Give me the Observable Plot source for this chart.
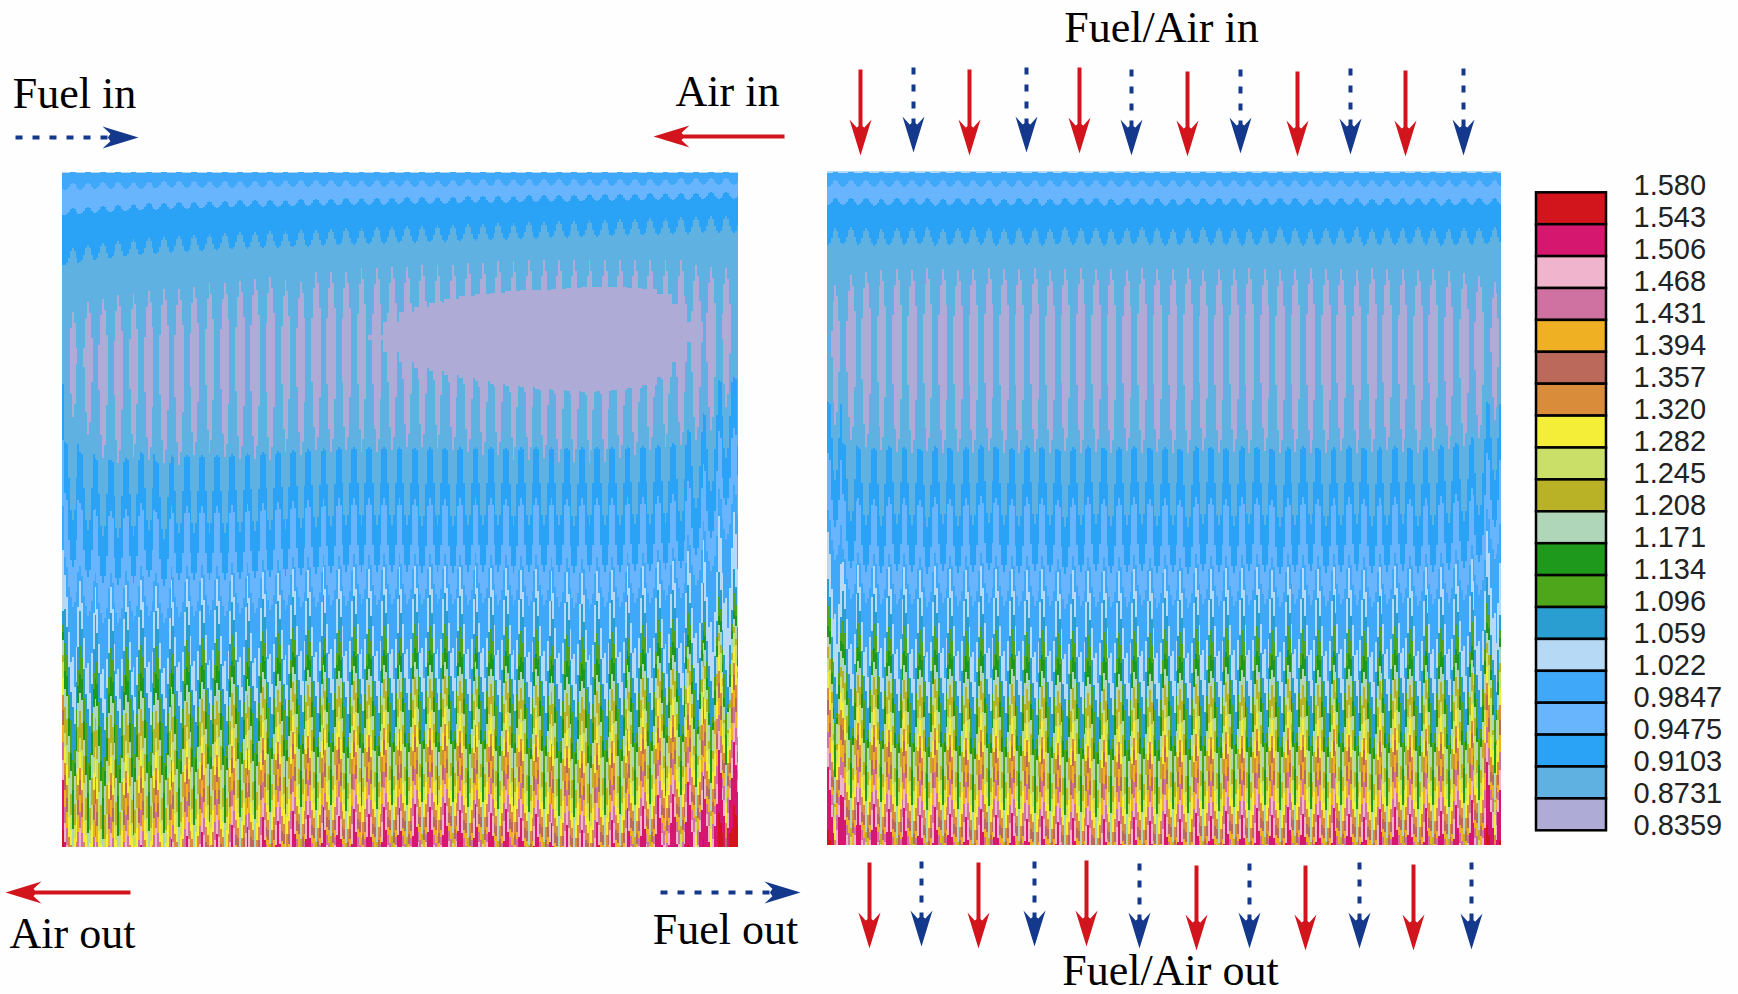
<!DOCTYPE html>
<html>
<head>
<meta charset="utf-8">
<script src="https://cdn.jsdelivr.net/npm/d3@7"></script>
<script src="https://cdn.jsdelivr.net/npm/@observablehq/plot@0.6"></script>
<style>html,body{margin:0;padding:0;background:#fefefe}svg{display:block}</style>
</head>
<body>
<div id="chart"></div>
<script>
// Contour levels, lowest band first
const levelLabels = ["0.8359","0.8731","0.9103","0.9475","0.9847","1.022","1.059","1.096","1.134","1.171","1.208","1.245","1.282","1.320","1.357","1.394","1.431","1.468","1.506","1.543","1.580"];
const bandColors = ["#aeabd6","#5fb1e2","#2aa2f6","#69b5fd","#40a8f9","#b6daf6","#2a9ed1","#4ea61b","#1e991b","#b0d6b9","#b9b226","#cadf68","#f5ee38","#d98c3a","#bb695a","#f0b023","#cf72a1","#f0b4cd","#d6176f","#d2141d"];
// Band order met from the top of a panel to its bottom
const bandOrder = [5,4,3,2,1,0,1,2,3,4,5,6,7,8,9,10,11,12,13,14,15,16,17,18,19];
// Lower edge of each band for the eight columns of one repeating cell (right panel reading)
const cell0 = [173,187,205,245,300,300,447,498,555,568,597,628,653,668,683,703,717,733,745,760,777,793,812,875,2000];
const cell1 = [173,186,204,243,300,300,449,505,565,590,615,640,658,675,695,715,735,755,768,782,798,815,835,885,2000];
const cell2 = [173,184,202,238,315,385,483,545,585,625,655,680,700,715,728,748,787,807,822,832,840,850,862,895,2000];
const cell3 = [172,181,199,231,285,430,515,565,595,655,680,705,735,750,770,785,800,815,825,835,848,862,878,910,2000];
const cell4 = [172,180,198,228,269,453,525,572,605,650,695,745,772,808,840,852,865,885,900,915,930,945,960,990,2000];
const cell5 = [172,181,199,231,280,440,515,565,600,680,712,735,745,755,780,795,808,825,838,848,860,875,890,925,2000];
const cell6 = [173,184,202,238,305,400,483,545,590,640,670,695,712,730,750,770,790,812,825,835,842,850,862,895,2000];
const cell7 = [173,186,204,243,300,300,449,505,570,600,635,655,668,682,703,722,738,755,770,785,802,820,840,890,2000];
const cells = [cell0,cell1,cell2,cell3,cell4,cell5,cell6,cell7];

// Left panel, one reading per repeating cell
const leftTop = [22,20,17,15,13,11,10,9,8,7,6,5,4,4,3,3,2,2,1,0,0,-1,-1,-2,-2,-3,-3,-4,-4,-5,-5,-6,-6,-7,-7,-8,-8,-9,-9,-10,-10,-11,-11,-12,-12,-12];
const leftSpikeTop = [400,312,302,299,295,293,291,289,289,287,283,283,281,279,277,280,282,272,272,272,268,268,267,267,265,265,265,263,263,261,261,260,260,260,260,260,260,260,260,260,260,260,265,267,268,400];
const leftSpikeBottom = [400,417,435,458,463,457,460,463,465,455,453,457,459,459,460,452,455,450,452,450,452,452,450,447,447,448,450,452,455,455,460,460,458,462,462,463,462,458,455,450,447,445,440,430,407,400];
const leftBlobTop = [null,null,null,null,null,null,null,null,null,null,null,null,null,null,null,null,null,null,null,null,null,335,322,312,307,303,299,296,294,293,291,290,290,289,288,287,287,287,288,289,294,304,322,null,null,null];
const leftBlobBottom = [null,null,null,null,null,null,null,null,null,null,null,null,null,null,null,null,null,null,null,null,null,340,352,362,368,371,375,378,381,384,386,387,389,390,391,392,391,390,388,385,377,362,342,null,null,null];
const leftMid = [-65,-5,5,11,13,11,5,14,8,8,8,8,7,6,5,4,3,2,1,0,0,0,0,0,1,0,1,0,0,0,1,0,0,0,1,0,0,0,-1,-1,-2,-4,-17,-34,-67,-70];
const leftLow = [-60,30,35,44,40,38,33,35,27,24,20,22,13,15,5,9,-1,3,-5,4,-3,2,-5,-4,-8,-5,-9,-2,-8,1,-3,6,2,11,13,18,10,8,-4,-6,-17,-18,-30,-36,-62,-70];

// Right panel, one reading per repeating cell
const rightTop = [1,0,-1,0,1,0,0,-1,1,0,-1,0,1,0,0,1,-1,0,0,1,0,-1,0,1,0,-1,0,0,1,0,-1,0,1,0,0,-1,1,0,0,-1,0,1,0,0,-1];
const rightSpikeTop = [400,285,275,272,270,269,270,268,269,270,269,268,269,269,268,270,269,268,269,269,270,268,269,269,268,270,269,269,268,269,270,269,268,269,269,270,268,269,269,270,269,271,273,276,282];
const rightSpikeBottom = [400,425,440,447,450,452,453,451,453,452,453,451,453,453,452,453,451,453,452,453,451,453,452,453,453,451,453,452,453,451,453,452,453,453,451,453,452,450,452,453,451,449,446,438,420];
const rightMid = [-55,-45,-4,0,1,-1,0,2,-1,1,0,-2,0,1,-1,0,2,0,-1,1,0,-1,1,0,2,-1,0,1,-1,0,2,0,-1,1,0,-1,1,0,-1,1,0,-2,-4,-10,-45];
const rightLow = [-60,-45,-15,-10,-8,-3,-4,3,-5,2,5,-3,3,1,7,4,10,6,13,7,9,5,9,2,7,1,4,-1,3,-4,3,-5,2,3,-4,2,5,-3,-5,2,-4,-1,-7,-12,-50];

// Side legend and annotations
const annotationLabels = ["Fuel/Air in","Fuel in","Air in","Air out","Fuel out","Fuel/Air out"];
const annotationX = [1161,74,727,72,725,1170];
const annotationY = [41,107,105,947,943,984];
const redTopX = [860,969,1079,1187,1297,1405], redTopStart = [69,69,67,71,71,70], redTopTip = [155,155,153,156,156,156];
const blueTopX = [913,1026,1131,1240,1350,1463], blueTopStart = [67,67,69,69,68,68], blueTopTip = [152,152,155,153,154,155];
const redBottomX = [869,978,1086,1196,1305,1413], redBottomStart = [862,862,860,865,865,864], redBottomTip = [948,948,946,950,950,950];
const blueBottomX = [921,1034,1139,1249,1359,1471], blueBottomStart = [861,861,863,863,862,862], blueBottomTip = [946,946,948,948,948,949];

const RED = "#d2141d", BLUE = "#14398c";
const panels = [
  {x0:49.9,  xMin:62,  xMax:738,  yMin:172, yMax:847, period:15.2,  top:leftTop,  spikeTop:leftSpikeTop,  spikeBottom:leftSpikeBottom,  blobTop:leftBlobTop, blobBottom:leftBlobBottom, mid:leftMid, low:leftLow},
  {x0:812.4, xMin:827, xMax:1502, yMin:171, yMax:845, period:15.33, top:rightTop, spikeTop:rightSpikeTop, spikeBottom:rightSpikeBottom, blobTop:null, blobBottom:null, mid:rightMid, low:rightLow}
];
const topWeight = [0,0.15,0.5,1];
const midWeight = {6:1,7:1,8:0.8,9:0.5};
const lowWeight = {8:0.2,9:0.3,10:0.4,11:0.5,12:0.6,13:0.7,14:0.8};

const bands = [];
for (const pn of panels) {
  for (let k = 0; k < pn.top.length; k++) {
    cells.forEach((cell, c) => {
      const x1 = Math.max(pn.xMin, pn.x0 + (k + (c - 0.5) / 8) * pn.period);
      const x2 = Math.min(pn.xMax, pn.x0 + (k + (c + 0.5) / 8) * pn.period);
      if (x2 <= x1) return;
      const hasSpike = cell[5] > cell[4];
      let prev = pn.yMin;
      cell.forEach((end, i) => {
        let e = end;
        if (i < 4) e += pn.top[k] * topWeight[i];
        else if (i === 4) {
          e = hasSpike ? end + pn.spikeTop[k] - 269 : 1000;
          if (pn.blobTop && pn.blobTop[k] != null) e = Math.min(e, pn.blobTop[k]);
          if (e === 1000) e = prev;
        } else if (i === 5) {
          e = hasSpike ? end + pn.spikeBottom[k] - 453 : prev;
          if (pn.blobBottom && pn.blobBottom[k] != null) e = Math.max(e, pn.blobBottom[k]);
        } else {
          e += (midWeight[i] || 0) * pn.mid[k];
          if (i >= 8) e += (i in lowWeight ? lowWeight[i] : 1) * pn.low[k];
        }
        e = Math.min(pn.yMax, Math.max(prev, e));
        if (i === cell.length - 1) e = pn.yMax;
        if (e > prev) bands.push({x1, x2, y1: prev, y2: e, level: bandOrder[i]});
        prev = e;
      });
    });
  }
}

// Legend bands, top band first
const legendBands = d3.range(20).map(i => ({level: 19 - i, y1: 192.3 + i * 31.9, y2: 192.3 + (i + 1) * 31.9}));
const legendTicks = levelLabels.slice().reverse().map((label, i) => ({label, y: 185 + i * 32}));

const stealth = {draw(ctx, l, r) {
  ctx.moveTo(0, -l);
  ctx.lineTo(r, 0);
  ctx.lineTo(r * 0.35, -l * 0.22);
  ctx.lineTo(0, -l * 0.15);
  ctx.lineTo(-r * 0.35, -l * 0.22);
  ctx.lineTo(-r, 0);
  ctx.closePath();
}};
const vertical = (xs, s, t) => xs.map((x, i) => ({x1: x, x2: x, y1: s[i], y2: t[i] - 25, tx: x, ty: t[i], rotate: 180}));
const redArrows = [...vertical(redTopX, redTopStart, redTopTip), ...vertical(redBottomX, redBottomStart, redBottomTip),
  {x1:784, x2:680, y1:136, y2:136, tx:653, ty:136, rotate:270},
  {x1:130, x2:32,  y1:892, y2:892, tx:5,   ty:892, rotate:270}];
const blueArrows = [...vertical(blueTopX, blueTopStart, blueTopTip), ...vertical(blueBottomX, blueBottomStart, blueBottomTip),
  {x1:15,  x2:112, y1:137, y2:137, tx:138, ty:137, rotate:90},
  {x1:660, x2:775, y1:892, y2:892, tx:800, ty:892, rotate:90}];
const annotations = annotationLabels.map((label, i) => ({label, x: annotationX[i], y: annotationY[i]}));

const plot = Plot.plot({
  width: 1738, height: 994, margin: 0,
  x: {domain: [0, 1738], range: [0, 1738], axis: null},
  y: {domain: [0, 994], range: [0, 994], axis: null},
  color: {type: "ordinal", domain: d3.range(20), range: bandColors},
  style: {background: "#fefefe"},
  marks: [
    Plot.rect(bands, {x1: "x1", x2: "x2", y1: "y1", y2: "y2", fill: "level", shapeRendering: "crispEdges"}),
    Plot.rect(legendBands, {x1: () => 1536, x2: () => 1606, y1: "y1", y2: "y2", fill: "level", stroke: "#000", strokeWidth: 2.5}),
    Plot.text(legendTicks, {x: () => 1633, y: "y", text: "label", textAnchor: "start", fontFamily: "Liberation Sans", fontSize: 29, fill: "#222"}),
    Plot.link(redArrows, {x1: "x1", y1: "y1", x2: "x2", y2: "y2", stroke: RED, strokeWidth: 4}),
    Plot.link(blueArrows, {x1: "x1", y1: "y1", x2: "x2", y2: "y2", stroke: BLUE, strokeWidth: 4, strokeDasharray: "7,10"}),
    Plot.vector(redArrows, {x: "tx", y: "ty", rotate: "rotate", anchor: "end", length: 36, r: 11, shape: stealth, fill: RED, stroke: "none"}),
    Plot.vector(blueArrows, {x: "tx", y: "ty", rotate: "rotate", anchor: "end", length: 36, r: 11, shape: stealth, fill: BLUE, stroke: "none"}),
    Plot.text(annotations, {x: "x", y: "y", text: "label", textAnchor: "middle", lineAnchor: "bottom", fontFamily: "Liberation Serif", fontSize: 44, fill: "#000"})
  ]
});
document.getElementById("chart").append(plot);
</script>
</body>
</html>
